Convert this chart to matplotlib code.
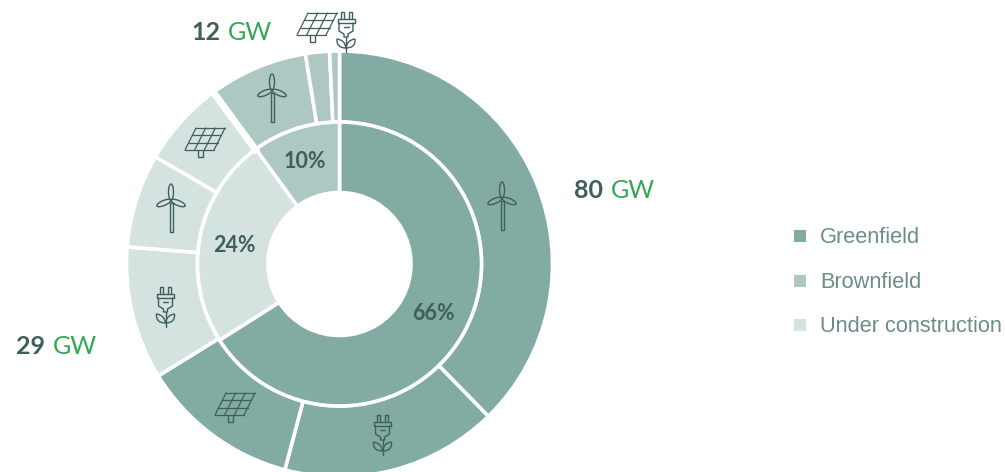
import numpy as np
import matplotlib
matplotlib.use('Agg')
import matplotlib.pyplot as plt
from matplotlib.patches import Ellipse, PathPatch, Rectangle
from matplotlib.path import Path

# chart data
outer_values = [45.6, 19.9, 14.6, 12.2, 8.6, 7.9, 9.1, 2.2, 0.9]
inner_values = [66, 24, 10]
inner_labels = ['66%', '24%', '10%']
legend_labels = ['Greenfield', 'Brownfield', 'Under construction']
gw_values = ['80', '29', '12']

GREEN = '#82aba4'
BROWN = '#adc7c2'
LIGHT = '#d5e3e0'
INK = '#3f5f5a'
GW_GREEN = '#34a853'
LEGEND_TEXT = '#6a8d87'
outer_colors = [GREEN] * 3 + [LIGHT] * 3 + [BROWN] * 3
inner_colors = [GREEN, LIGHT, BROWN]
legend_colors = [GREEN, BROWN, LIGHT]

H = 472
CX, CY = 339.5, H - 264
FONT = 'Lato'

fig = plt.figure(figsize=(10.05, 4.72), dpi=100)
ax = fig.add_axes([0, 0, 1, 1])


def py(y):
    return H - y


def icon_line(xs, ys, lw=1.0):
    ax.plot(xs, [py(y) for y in ys], color=INK, lw=lw, solid_capstyle='round',
            solid_joinstyle='round', zorder=5)


def turbine(x, y):
    # x, y is the hub
    icon_line([x - 1.5, x - 1.5, x + 1.5, x + 1.5, x - 1.5],
              [y + 3, y + 32, y + 32, y + 3, y + 3])
    for cx, cy, angle, length in [(0, -8, 0, 16), (-7.2, 3, -67, 15), (7.2, 3, 67, 15)]:
        ax.add_patch(Ellipse((x + cx, py(y + cy)), 5, length, angle=angle,
                             fill=False, ec=INK, lw=1.0, zorder=5))


def solar(x, y):
    # x, y is the top left of the bounding box of the panel, about 40x22
    def pt(u, v):
        return x + 11 + u * 29 - v * 11, y + v * 22
    for u in [0, 1 / 3, 2 / 3, 1]:
        a, b = pt(u, 0), pt(u, 1)
        icon_line([a[0], b[0]], [a[1], b[1]], lw=0.9)
    for v in [0, 1 / 3, 2 / 3, 1]:
        a, b = pt(0, v), pt(1, v)
        icon_line([a[0], b[0]], [a[1], b[1]], lw=0.9)
    icon_line([x + 13, x + 13, x + 18, x + 18], [y + 22, y + 29, y + 29, y + 22])


def plug(x, y):
    # x is the centre line, y the top of the prongs
    for px in (-5.5, 2.5):
        icon_line([x + px, x + px, x + px + 3, x + px + 3], [y + 7, y, y, y + 7])
    icon_line([x - 8.5, x + 8.5, x + 8.5, x - 8.5, x - 8.5], [y + 7, y + 7, y + 11, y + 11, y + 7])
    icon_line([x - 7, x - 7, x - 2, x - 2, x + 2, x + 2, x + 7, x + 7],
              [y + 11, y + 19, y + 22, y + 25, y + 25, y + 22, y + 19, y + 11])
    icon_line([x - 2.5, x + 2.5], [y + 15, y + 15])
    icon_line([x, x], [y + 25, y + 40])
    for side in (-1, 1):
        verts = [(x, py(y + 36)), (x + side * 10, py(y + 36)), (x + side * 9, py(y + 27)),
                 (x + side * 1, py(y + 28)), (x, py(y + 36))]
        codes = [Path.MOVETO, Path.CURVE3, Path.CURVE3, Path.CURVE3, Path.CURVE3]
        ax.add_patch(PathPatch(Path(verts, codes), fill=False, ec=INK, lw=1.0, zorder=5))


# rings
ax.pie(outer_values, colors=outer_colors, startangle=90, counterclock=False,
       center=(CX, CY), radius=213, normalize=True,
       wedgeprops=dict(width=71, edgecolor='white', linewidth=2.6))
ax.pie(inner_values, colors=inner_colors, startangle=90, counterclock=False,
       center=(CX, CY), radius=142, normalize=True,
       wedgeprops=dict(width=70.5, edgecolor='white', linewidth=2.6))

# the gap between under construction and brownfield is a bit wider
gap = np.radians(360 * sum(outer_values[:6]) / sum(outer_values))
ax.plot([CX + 142 * np.sin(gap), CX + 215 * np.sin(gap)],
        [CY + 142 * np.cos(gap), CY + 215 * np.cos(gap)], color='white', lw=5, zorder=4)

# percent labels
for label, (x, y) in zip(inner_labels, [(433, 313), (234, 246), (305, 162)]):
    ax.text(x, py(y), label, color=INK, fontsize=15.5, fontweight='bold', family=FONT,
            ha='center', va='center', zorder=6)

# GW labels
for value, (x, y) in zip(gw_values, [(574, 190), (16, 346), (191, 32)]):
    ax.text(x, py(y), value, color=INK, fontsize=18, fontweight='bold', family=FONT,
            ha='left', va='center', zorder=6)
    ax.text(x + 36.5, py(y), 'GW', color=GW_GREEN, fontsize=18, family=FONT,
            ha='left', va='center', zorder=6)

# icons
turbine(502, 198)
turbine(272, 90)
turbine(171, 200)
solar(297, 13)
solar(185, 128)
solar(215, 393)
plug(346, 12)
plug(165.5, 287)
plug(382.5, 415)

# legend
for label, color, y in zip(legend_labels, legend_colors, [236, 280.5, 325]):
    ax.add_patch(Rectangle((794, py(y) - 6), 12, 12, fc=color, ec='none'))
    ax.text(820, py(y) - 1.5, label, color=LEGEND_TEXT, fontsize=15.7, family='Liberation Sans',
            ha='left', va='center')

ax.set_xlim(0, 1005)
ax.set_ylim(0, H)
ax.set_aspect('equal')
ax.axis('off')

fig.savefig('out.png', dpi=100, facecolor='white')
